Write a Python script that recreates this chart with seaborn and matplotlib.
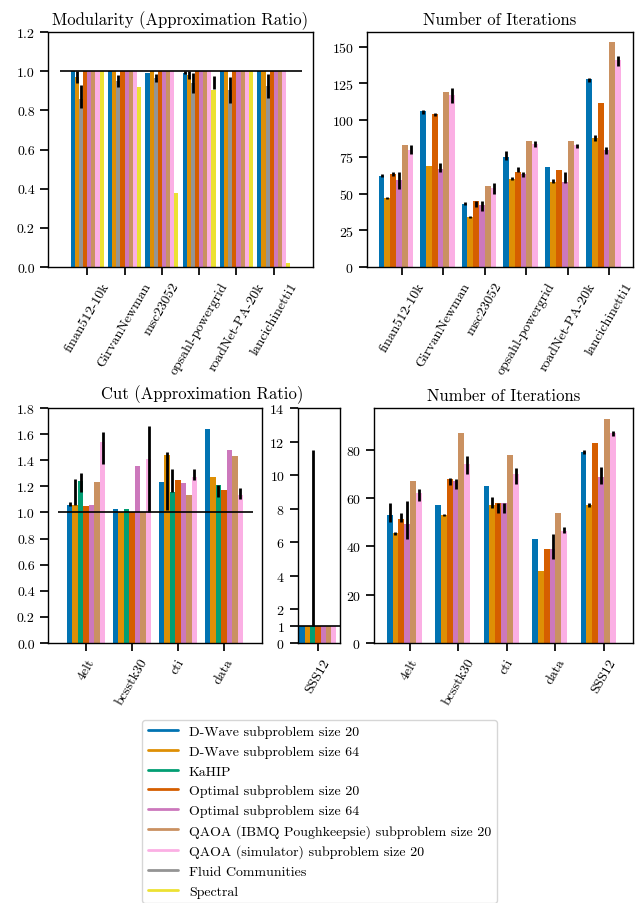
import pandas as pd
import numpy as np
import matplotlib
matplotlib.use("Agg")
import matplotlib.pyplot as plt
from matplotlib.lines import Line2D
import seaborn as sns

# methods and colours (seaborn colorblind palette)
methods = ["D-Wave subproblem size 20", "D-Wave subproblem size 64", "KaHIP",
           "Optimal subproblem size 20", "Optimal subproblem size 64",
           "QAOA (IBMQ Poughkeepsie) subproblem size 20",
           "QAOA (simulator) subproblem size 20", "Fluid Communities", "Spectral"]
DW20, DW64, KAHIP, OPT20, OPT64, IBMQ, SIM, FLUID, SPEC = methods

# --- Modularity (approximation ratio)
mod_datasets = ["finan512-10k", "GirvanNewman", "msc23052", "opsahl-powergrid", "roadNet-PA-20k", "lancichinetti1"]
mod_order = [DW20, DW64, FLUID, OPT20, OPT64, IBMQ, SIM, SPEC]
mod_values = {
    DW20: [1.0, 1.0, 0.99, 0.99, 1.0, 1.0],
    DW64: [0.97, 1.0, 1.0, 0.98, 1.0, 1.0],
    FLUID: [0.86, 0.95, 0.965, 0.94, 0.905, 0.925],
    OPT20: [1.0, 1.0, 1.0, 1.0, 1.0, 1.0],
    OPT64: [1.0, 1.0, 1.0, 1.0, 1.0, 1.0],
    IBMQ: [1.0, 1.0, 1.0, 1.0, 1.0, 1.0],
    SIM: [1.0, 1.0, 1.0, 1.0, 1.0, 1.0],
    SPEC: [1.0, 0.92, 0.38, 0.905, 1.0, 0.02],
}
mod_err = [
    (DW64, "finan512-10k", 0.94, 1.0), (FLUID, "finan512-10k", 0.81, 0.93),
    (FLUID, "GirvanNewman", 0.92, 0.98), (FLUID, "msc23052", 0.945, 0.985),
    (DW20, "opsahl-powergrid", 0.985, 1.0), (DW64, "opsahl-powergrid", 0.96, 1.0),
    (FLUID, "opsahl-powergrid", 0.89, 0.99), (SPEC, "opsahl-powergrid", 0.91, 0.975),
    (FLUID, "roadNet-PA-20k", 0.84, 0.97), (FLUID, "lancichinetti1", 0.865, 0.985),
]

# --- Number of iterations (modularity)
it1_order = [DW20, DW64, OPT20, OPT64, IBMQ, SIM, FLUID, SPEC]
it1_values = {
    DW20: [62, 106, 43, 75, 68, 128],
    DW64: [47, 69, 34, 60, 58, 88],
    OPT20: [63, 104, 45, 65, 66, 112],
    OPT64: [59, 67, 42, 63, 58, 80],
    IBMQ: [83, 119, 55, 86, 86, 153],
    SIM: [80, 117, 54, 84, 83, 141],
}
it1_err = [
    (DW20, "finan512-10k", 61, 63), (DW64, "finan512-10k", 46, 48), (OPT20, "finan512-10k", 62, 65),
    (OPT64, "finan512-10k", 53, 65), (SIM, "finan512-10k", 77, 83),
    (DW20, "GirvanNewman", 104, 107), (OPT20, "GirvanNewman", 103, 105),
    (OPT64, "GirvanNewman", 65, 71), (SIM, "GirvanNewman", 112, 122),
    (DW20, "msc23052", 42, 44), (DW64, "msc23052", 33.5, 34.5), (OPT20, "msc23052", 41, 45),
    (OPT64, "msc23052", 38, 45), (SIM, "msc23052", 50, 57),
    (DW20, "opsahl-powergrid", 73, 79), (DW64, "opsahl-powergrid", 59, 61),
    (OPT20, "opsahl-powergrid", 65, 68), (OPT64, "opsahl-powergrid", 61, 65), (SIM, "opsahl-powergrid", 82, 86),
    (DW64, "roadNet-PA-20k", 57, 60), (OPT64, "roadNet-PA-20k", 57, 65), (SIM, "roadNet-PA-20k", 81, 84),
    (DW20, "lancichinetti1", 126, 129), (DW64, "lancichinetti1", 86, 90),
    (OPT64, "lancichinetti1", 77, 82), (SIM, "lancichinetti1", 137, 144),
]

# --- Cut (approximation ratio)
cut_datasets = ["4elt", "bcsstk30", "cti", "data"]
cut_big = ["SSS12"]
cut_order = [DW20, DW64, KAHIP, OPT20, OPT64, IBMQ, SIM]
cut_values = {
    DW20: [1.06, 1.03, 1.23, 1.64],
    DW64: [1.06, 1.0, 1.44, 1.275],
    KAHIP: [1.24, 1.03, 1.16, 1.21],
    OPT20: [1.05, 1.0, 1.25, 1.175],
    OPT64: [1.055, 1.355, 1.225, 1.48],
    IBMQ: [1.23, 1.0, 1.13, 1.43],
    SIM: [1.54, 1.41, 1.27, 1.13],
}
cut_big_values = {DW20: [1.0], DW64: [1.0], KAHIP: [1.0], OPT20: [1.0], OPT64: [1.0], IBMQ: [1.0], SIM: [1.0]}
cut_err = [
    (DW20, "4elt", 1.05, 1.08), (DW64, "4elt", 1.06, 1.26), (KAHIP, "4elt", 1.16, 1.30), (SIM, "4elt", 1.37, 1.62),
    (SIM, "bcsstk30", 1.0, 1.66),
    (DW64, "cti", 1.02, 1.46), (KAHIP, "cti", 1.16, 1.33), (SIM, "cti", 1.25, 1.33),
    (KAHIP, "data", 1.12, 1.21), (SIM, "data", 1.10, 1.19),
]
cut_big_err = [(KAHIP, "SSS12", 1.0, 11.5)]

# --- Number of iterations (cut)
it2_datasets = ["4elt", "bcsstk30", "cti", "data", "SSS12"]
it2_order = [DW20, DW64, OPT20, OPT64, IBMQ, SIM, FLUID, SPEC]
it2_values = {
    DW20: [53, 57, 65, 43, 79],
    DW64: [45.5, 53, 57, 30, 57],
    OPT20: [51.5, 68, 58, 39, 83],
    OPT64: [49.5, 67, 58, 39, 69],
    IBMQ: [67, 87, 78, 54, 93],
    SIM: [62, 74, 70, 46.5, 87],
}
it2_err = [
    (DW20, "4elt", 50, 58), (DW64, "4elt", 44.8, 46), (OPT20, "4elt", 50, 54), (OPT64, "4elt", 43, 59), (SIM, "4elt", 59, 64),
    (DW64, "bcsstk30", 52.5, 53.5), (OPT20, "bcsstk30", 65.5, 68.5), (OPT64, "bcsstk30", 64, 68), (SIM, "bcsstk30", 70, 77.5),
    (DW64, "cti", 56, 60.5), (OPT20, "cti", 54, 58), (OPT64, "cti", 54, 58), (SIM, "cti", 66, 72.5),
    (OPT64, "data", 35, 45), (SIM, "data", 45.5, 48),
    (DW20, "SSS12", 78.5, 80), (DW64, "SSS12", 56.5, 58), (OPT64, "SSS12", 66, 73), (SIM, "SSS12", 86, 88),
]

sns.set_theme(style="ticks", palette="colorblind")
plt.rcParams["font.family"] = ["cmr10", "DejaVu Serif"]
plt.rcParams["mathtext.fontset"] = "cm"
plt.rcParams["axes.formatter.use_mathtext"] = True
plt.rcParams["axes.unicode_minus"] = False
plt.rcParams["axes.linewidth"] = 1.0
plt.rcParams["axes.edgecolor"] = "black"
plt.rcParams["xtick.color"] = "black"
plt.rcParams["ytick.color"] = "black"
plt.rcParams["text.color"] = "black"
plt.rcParams["xtick.labelsize"] = 10
plt.rcParams["ytick.labelsize"] = 10

pal = sns.color_palette("colorblind", 9)
colors = dict(zip(methods, pal))


def bars(ax, datasets, order, values, width, errs):
    rows = [(d, m, v) for m in order if m in values for d, v in zip(datasets, values[m])]
    df = pd.DataFrame(rows, columns=["dataset", "method", "value"])
    sns.barplot(data=df, x="dataset", y="value", hue="method", order=datasets, hue_order=order,
                palette=colors, width=width, saturation=1, errorbar=None, legend=False, ax=ax,
                linewidth=0)
    n = len(order)
    w = width / n
    for m, d, lo, hi in errs:
        x = datasets.index(d) + w * order.index(m) + w / 2 - width / 2
        ax.vlines(x, lo, hi, color="black", lw=2, zorder=5)
    ax.set_xlabel("")
    ax.set_ylabel("")
    ax.tick_params(axis="x", labelrotation=60)


W, H = 639, 904


def box(x0, x1, y0, y1):
    return [x0 / W, 1 - y1 / H, (x1 - x0) / W, (y1 - y0) / H]


fig = plt.figure(figsize=(6.39, 9.04), dpi=100)

ax1 = fig.add_axes(box(48, 313, 33, 268))
bars(ax1, mod_datasets, mod_order, mod_values, 0.88, mod_err)
ax1.hlines(1.0, -0.72, 5.75, color="black", lw=1.2, zorder=6)
ax1.set_xlim(-1.05, 6.05)
ax1.set_ylim(0, 1.2)
ax1.set_yticks(np.arange(0, 1.21, 0.2))
ax1.yaxis.set_major_formatter(matplotlib.ticker.FormatStrFormatter("%.1f"))
ax1.set_title("Modularity (Approximation Ratio)", fontsize=12)

ax2 = fig.add_axes(box(367, 633, 33, 268))
bars(ax2, mod_datasets, it1_order, it1_values, 1.12, it1_err)
ax2.set_xlim(-0.84, 5.57)
ax2.set_ylim(0, 160)
ax2.set_yticks(range(0, 151, 25))
ax2.set_title("Number of Iterations", fontsize=12)

ax3 = fig.add_axes(box(48, 262, 409, 644))
bars(ax3, cut_datasets, cut_order, cut_values, 0.84, cut_err)
ax3.hlines(1.0, -0.61, 3.63, color="black", lw=1.2, zorder=6)
ax3.set_xlim(-0.83, 3.83)
ax3.set_ylim(0, 1.8)
ax3.set_yticks(np.arange(0, 1.81, 0.2))
ax3.yaxis.set_major_formatter(matplotlib.ticker.FormatStrFormatter("%.1f"))
fig.text(202 / W, 1 - 399 / H, "Cut (Approximation Ratio)", ha="center", va="baseline", fontsize=12)

ax4 = fig.add_axes(box(298, 340, 409, 644))
bars(ax4, cut_big, cut_order, cut_big_values, 0.84, cut_big_err)
ax4.axhline(1.0, color="black", lw=1.2, zorder=6)
ax4.set_xlim(-0.45, 0.5)
ax4.set_ylim(0, 14)
ax4.set_yticks([0, 1, 2, 4, 6, 8, 10, 12, 14])

ax5 = fig.add_axes(box(374, 633, 409, 644))
bars(ax5, it2_datasets, it2_order, it2_values, 0.96, it2_err)
ax5.set_xlim(-0.742, 4.60)
ax5.set_ylim(0, 97.4)
ax5.set_yticks(range(0, 81, 20))
ax5.set_title("Number of Iterations", fontsize=12)

handles = [Line2D([], [], color=colors[m], lw=2, label=m) for m in methods]
fig.legend(handles=handles, loc="upper center", bbox_to_anchor=(0.5, 1 - 714 / H),
           fontsize=10, handlelength=2.15, labelspacing=0.5, frameon=True)

fig.savefig("out.png", dpi=100)
